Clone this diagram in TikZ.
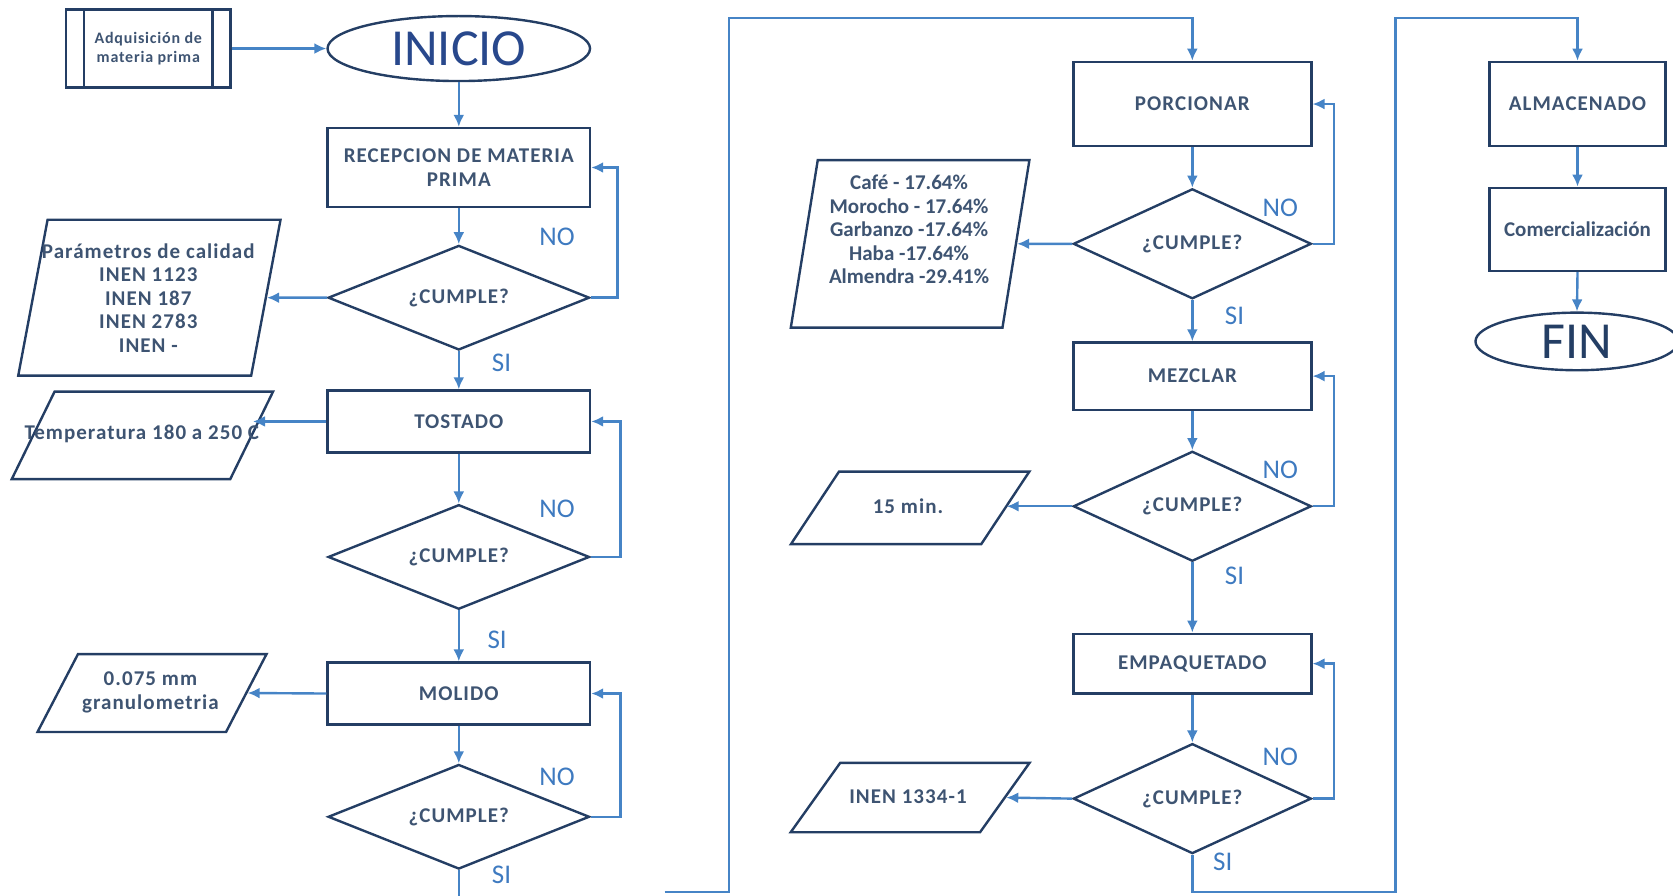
\documentclass[tikz,border=0pt]{standalone}
\usepackage{fontspec}
\setmainfont{Carlito}[LetterSpace=5]
\usetikzlibrary{shapes.geometric,arrows.meta}
\definecolor{edge}{RGB}{36,62,100}
\definecolor{flow}{RGB}{70,132,198}
\definecolor{ink}{RGB}{62,84,114}
\definecolor{tag}{RGB}{62,122,192}
\definecolor{title}{RGB}{40,72,140}

\begin{document}
\begin{tikzpicture}[x=1.067pt,y=-1.067pt,
  txt/.style={text=ink,font=\fontsize{21}{23.5}\selectfont\bfseries,align=center},
  tight/.style={font=\fontsize{21}{23.5}\selectfont\bfseries\addfontfeature{LetterSpace=0}},
  box/.style={draw=edge,line width=2.4pt,rectangle,inner sep=0pt,txt},
  oval/.style={draw=edge,line width=2.4pt,ellipse,inner sep=0pt},
  ask/.style={draw=edge,line width=2.4pt,diamond,aspect=2.5,inner sep=0pt,txt,
    minimum width=261.4pt,minimum height=104.6pt},
  askm/.style={ask,minimum width=238pt,minimum height=110pt},
  datum/.style={draw=edge,line width=2.4pt,trapezium,trapezium stretches=true,inner sep=2pt},
  arr/.style={draw=flow,line width=2.4pt,-{Latex[length=12pt,width=11pt]}},
  conn/.style={draw=flow,line width=2.4pt},
  tag/.style={text=tag,font=\fontsize{27}{27}\selectfont\addfontfeature{LetterSpace=0},inner sep=0pt}
]
\useasboundingbox (0,0) rectangle (1568,839);
\clip (0,0) rectangle (1568,839);

% ---------- first column ----------
\node[box,minimum width=164.3pt,minimum height=77.9pt,
  font=\fontsize{16}{19}\selectfont\bfseries] (adq) at (139,45.5) {Adquisición de\\materia prima};
\draw[draw=edge,line width=2.4pt] ([xshift=19.2pt]adq.north west) -- ([xshift=19.2pt]adq.south west);
\draw[draw=edge,line width=2.4pt] ([xshift=-19.2pt]adq.north east) -- ([xshift=-19.2pt]adq.south east);
\node[oval,minimum width=262.5pt,minimum height=65pt,text=title,
  font=\fontsize{52}{52}\selectfont\addfontfeature{LetterSpace=0}] (inicio) at (430,45.5) {INICIO};

\node[box,minimum width=262.5pt,minimum height=79pt] (rec) at (430,157) {RECEPCION DE MATERIA\\PRIMA};
\node[ask] (d1) at (430,279) {¿CUMPLE?};
\node[datum,trapezium left angle=81.8,trapezium right angle=98.2,
  minimum width=262.5pt,minimum height=155.8pt] (p1) at (140,279) {\rule{10pt}{0pt}\rule{0pt}{10pt}};
\node[txt] (p1t) at (139,279) {Parámetros de calidad\\INEN 1123\\INEN 187\\INEN 2783\\INEN -};

\node[box,minimum width=262.5pt,minimum height=61.9pt] (tost) at (430,395) {TOSTADO};
\node[datum,trapezium left angle=76.3,trapezium right angle=103.7,
  minimum width=261.4pt,minimum height=87.5pt] (p2) at (133.5,408) {\rule{10pt}{0pt}\rule{0pt}{10pt}};
\node[txt] (p2t) at (133,407) {Temperatura 180 a 250 C};
\node[ask] (d2) at (430,522) {¿CUMPLE?};

\node[box,minimum width=262.5pt,minimum height=61.9pt] (mol) at (430,650) {MOLIDO};
\node[datum,trapezium left angle=74.7,trapezium right angle=105.3,
  minimum width=229.4pt,minimum height=77.9pt] (p3) at (142.5,649.5) {\rule{10pt}{0pt}\rule{0pt}{10pt}};
\node[txt] (p3t) at (141,649) {0.075 mm\\granulometria};
\node[ask] (d3) at (430,765.5) {¿CUMPLE?};

% ---------- second column ----------
\node[box,minimum width=238pt,minimum height=84.3pt] (porc) at (1117.5,97.5) {PORCIONAR};
\node[askm] (d4) at (1117.5,228.5) {¿CUMPLE?};
\node[datum,trapezium left angle=81.7,trapezium right angle=98.3,
  minimum width=239pt,minimum height=167.5pt] (p4) at (853,228.5) {\rule{10pt}{0pt}\rule{0pt}{10pt}};
\node[txt,tight] (p4t) at (852,215) {Café - 17.64\%\\Morocho - 17.64\%\\Garbanzo -17.64\%\\Haba -17.64\%\\Almendra -29.41\%};

\node[box,minimum width=238pt,minimum height=67.2pt] (mez) at (1117.5,352.5) {MEZCLAR};
\node[askm] (d5) at (1117.5,474.5) {¿CUMPLE?};
\node[datum,trapezium left angle=71.3,trapezium right angle=108.7,
  minimum width=239pt,minimum height=72.6pt] (p5) at (853,476) {\rule{10pt}{0pt}\rule{0pt}{10pt}};
\node[txt] (p5t) at (851,474) {15 min.};

\node[box,minimum width=238pt,minimum height=59.8pt] (emp) at (1117.5,622) {EMPAQUETADO};
\node[askm] (d6) at (1117.5,748.5) {¿CUMPLE?};
\node[datum,trapezium left angle=70.5,trapezium right angle=109.5,
  minimum width=239pt,minimum height=69.4pt] (p6) at (853,747.5) {\rule{10pt}{0pt}\rule{0pt}{10pt}};
\node[txt] (p6t) at (851,747) {INEN 1334-1};

% ---------- third column ----------
\node[box,minimum width=176pt,minimum height=84.3pt] (alm) at (1478.5,97.5) {ALMACENADO};
\node[box,tight,minimum width=176pt,minimum height=83.2pt] (com) at (1478.5,215) {Comercialización};
\node[oval,minimum width=203pt,minimum height=57.6pt,text=edge,
  font=\fontsize{52}{52}\selectfont\addfontfeature{LetterSpace=0}] (fin) at (1478,320) {FIN};

% ---------- helper points for the long connectors ----------
\coordinate (cutA) at (430,842);
\coordinate (cutB) at (623,836);
\coordinate (topA) at (683,17);
\coordinate (botB) at (1308,836);
\coordinate (topB) at (1308,17);

% ---------- connectors ----------
\draw[arr] (adq.east) -- (inicio.west);
\draw[arr] (inicio.south) -- (rec.north);
\draw[arr] (rec.south) -- (d1.north);
\draw[arr] (d1.east) -- ++(25,0) |- (rec.east);
\draw[arr] (d1.west) -- (p1.east);
\draw[arr] (d1.south) -- (tost.north);
\draw[arr] (tost.west) -- (tost.west -| p2.east);
\draw[arr] (tost.south) -- (d2.north);
\draw[arr] (d2.east) -- ++(28,0) |- (tost.east);
\draw[arr] (d2.south) -- (mol.north);
\draw[arr] (mol.west) -- (p3.east);
\draw[arr] (mol.south) -- (d3.north);
\draw[arr] (d3.east) -- ++(28,0) |- (mol.east);
\draw[conn] (d3.south) -- (cutA);

\draw[arr] (cutB) -| (topA) -| (porc.north);
\draw[arr] (porc.south) -- (d4.north);
\draw[arr] (d4.east) -- ++(20,0) |- (porc.east);
\draw[arr] (d4.west) -- (p4.east);
\draw[arr] (d4.south) -- (mez.north);
\draw[arr] (mez.south) -- (d5.north);
\draw[arr] (d5.east) -- ++(20,0) |- (mez.east);
\draw[arr] (d5.west) -- (d5.west -| p5.east);
\draw[arr] (d5.south) -- (emp.north);
\draw[arr] (emp.south) -- (d6.north);
\draw[arr] (d6.east) -- ++(20,0) |- (emp.east);
\draw[arr] (d6.west) -- (p6.east);
\draw[arr] (d6.south) |- (botB) -- (topB) -| (alm.north);
\draw[arr] (alm.south) -- (com.north);
\draw[arr] (com.south) -- (fin.north);

% ---------- branch labels ----------
\node[tag] (no1) at (522,222) {NO};
\node[tag] (no2) at (522,477) {NO};
\node[tag] (no3) at (522,728) {NO};
\node[tag] (no4) at (1200,195) {NO};
\node[tag] (no5) at (1200,440) {NO};
\node[tag] (no6) at (1200,709) {NO};
\node[tag] (si1) at (470,340) {SI};
\node[tag] (si2) at (466,600) {SI};
\node[tag] (si3) at (470,820) {SI};
\node[tag] (si4) at (1157,296) {SI};
\node[tag] (si5) at (1157,540) {SI};
\node[tag] (si6) at (1146,808) {SI};
\end{tikzpicture}
\end{document}
